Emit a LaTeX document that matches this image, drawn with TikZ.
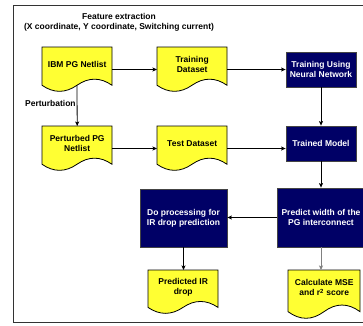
\documentclass[tikz,border=0pt]{standalone}
\usepackage{fontspec}
\setmainfont{Liberation Sans}
\usetikzlibrary{arrows.meta,backgrounds,calc}
\definecolor{docyellow}{HTML}{FFFF33}
\definecolor{navyfill}{HTML}{000066}
\definecolor{boxedge}{HTML}{444444}
\definecolor{framecol}{HTML}{333333}
\definecolor{grayarrow}{HTML}{808080}
\newcommand\docout[3]{%
  \begin{scope}[on background layer, shift={(#1.north west)}]
    \filldraw[docline] (0,0) -- (#2,0) -- (#2,{0.85*#3})
      .. controls ({0.8333*#2},{0.67*#3}) and ({0.6667*#2},{0.67*#3}) .. ({0.5*#2},{0.85*#3})
      .. controls ({0.3333*#2},{1.03*#3}) and ({0.1667*#2},{1.03*#3}) .. (0,{0.85*#3}) -- cycle;
    \coordinate (#1-c) at ({0.5*#2},{0.5*#3});
    \coordinate (#1-b) at ({0.5*#2},{0.85*#3});
  \end{scope}}
\tikzset{
  lbl/.style={font=\bfseries\fontsize{8.5}{10.2}\selectfont, align=center, inner sep=0pt},
  doc/.style={lbl, anchor=north west, minimum height=34pt},
  docline/.style={draw=black, fill=docyellow, line width=0.8pt},
  navybox/.style={lbl, draw=boxedge, fill=navyfill, text=white, line width=0.8pt},
  arr/.style={draw=black, line width=0.8pt, -{Stealth[length=4.5pt,width=4pt,inset=1pt]}},
  grayarr/.style={arr, draw=grayarrow, line width=1pt}
}
\begin{document}
\begin{tikzpicture}[x=1pt,y=-1pt]
\useasboundingbox (0,0) rectangle (363,325);
\draw[framecol, line width=1pt] (13,5) rectangle (380,322);
\node[lbl] (title) at (119,22.5) {Feature extraction\\(X coordinate, Y coordinate, Switching current)};
\node[doc, minimum width=70pt] (ibm) at (42,47) {IBM PG Netlist};
\node[doc, minimum width=70pt] (trainds) at (157,47) {Training\\Dataset};
\node[doc, minimum width=70pt] (pert) at (42,126) {Perturbed PG\\Netlist};
\node[doc, minimum width=70pt] (testds) at (157,126) {Test Dataset};
\node[doc, minimum width=70pt] (predir) at (148,270) {Predicted IR\\drop};
\node[doc, minimum width=72pt, minimum height=35pt] (calc) at (288,270) {Calculate MSE\\and r\textsuperscript{2} score};
\node[navybox, minimum width=70pt, minimum height=35pt] (trainnn) at (321,69.5) {Training Using\\Neural Network};
\node[navybox, minimum width=70pt, minimum height=35pt] (trained) at (321,143.5) {Trained Model};
\node[navybox, minimum width=88pt, minimum height=59pt] (predict) at (321,217.5) {Predict width of the\\PG interconnect};
\node[navybox, minimum width=87pt, minimum height=58pt] (doproc) at (183.5,218) {Do processing for\\IR drop prediction};
\docout{ibm}{70}{45}
\docout{trainds}{70}{45}
\docout{pert}{70}{45}
\docout{testds}{70}{45}
\docout{predir}{70}{44}
\docout{calc}{72}{49}
\draw[arr] (ibm-c -| ibm.east) -- (ibm-c -| trainds.west);
\draw[arr] (trainds-c -| trainds.east) -- (trainds-c -| trainnn.west);
\draw[arr] (ibm-b) -- node[lbl, anchor=east, pos=0.45, xshift=-1pt] {Perturbation} (pert.north);
\draw[arr] (pert-c -| pert.east) -- (pert-c -| testds.west);
\draw[arr] (testds-c -| testds.east) -- (testds-c -| trained.west);
\draw[arr] (trainnn.south) -- (trained.north);
\draw[arr] (trained.south) -- (predict.north);
\draw[arr] (predict.west) -- (predict.west -| doproc.east);
\draw[arr] (doproc.south) -- (doproc.south |- predir.north);
\draw[grayarr] (predict.south) -- (predict.south |- calc.north);
\end{tikzpicture}
\end{document}
